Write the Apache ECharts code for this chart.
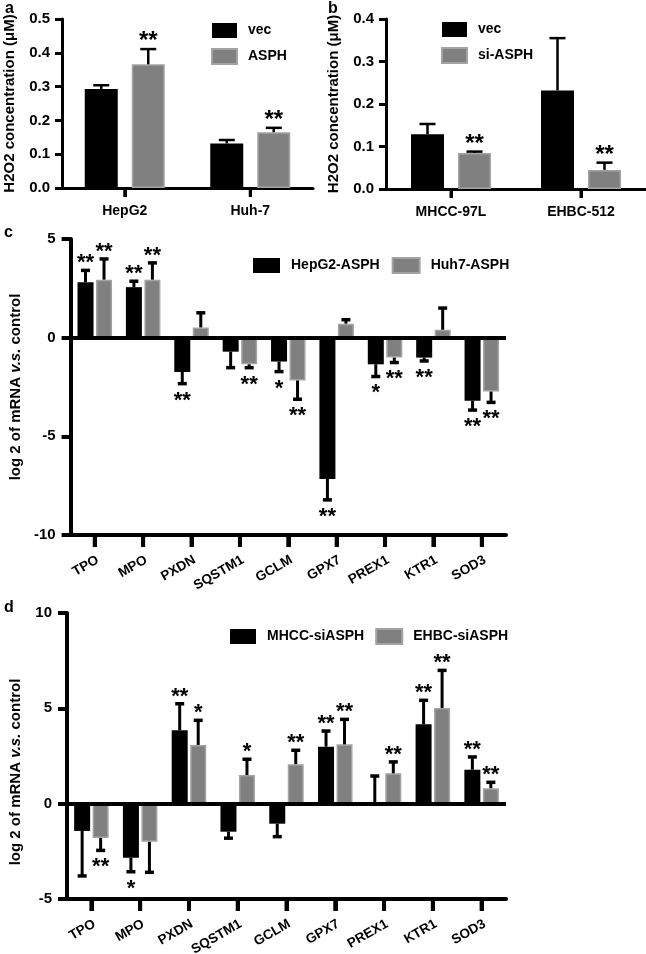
<!DOCTYPE html>
<html>
<head>
<meta charset="utf-8">
<script src="https://cdn.jsdelivr.net/npm/echarts@6/dist/echarts.min.js"></script>
<style>
html,body{margin:0;padding:0;background:#fff;}
#main{width:646px;height:954px;}
</style>
</head>
<body>
<div id="main"></div>
<script>
// ---------- DATA ----------
const aCategories = ['HepG2', 'Huh-7'];
const aVec = [0.293, 0.132];
const aVecErr = [0.011, 0.010];
const aVecStars = ['', ''];
const aAsph = [0.366, 0.165];
const aAsphErr = [0.045, 0.013];
const aAsphStars = ['**', '**'];
const aTicks = [0, 0.5, 0.1];

const bCategories = ['MHCC-97L', 'EHBC-512'];
const bVec = [0.129, 0.232];
const bVecErr = [0.024, 0.123];
const bVecStars = ['', ''];
const bSi = [0.085, 0.045];
const bSiErr = [0.003, 0.017];
const bSiStars = ['**', '**'];
const bTicks = [0, 0.4, 0.1];

const cCategories = ['TPO', 'MPO', 'PXDN', 'SQSTM1', 'GCLM', 'GPX7', 'PREX1', 'KTR1', 'SOD3'];
const cHepG2 = [2.81, 2.56, -1.74, -0.71, -1.21, -7.16, -1.35, -1.01, -3.20];
const cHepG2Err = [0.60, 0.30, 0.59, 0.81, 0.51, 1.06, 0.62, 0.17, 0.47];
const cHepG2Stars = ['**', '**', '**', '', '*', '**', '*', '**', '**'];
const cHuh7 = [2.94, 2.94, 0.52, -1.35, -2.17, 0.71, -1.01, 0.40, -2.73];
const cHuh7Err = [1.05, 0.85, 0.74, 0.17, 0.95, 0.20, 0.25, 1.10, 0.55];
const cHuh7Stars = ['**', '**', '', '**', '**', '', '**', '', '**'];
const cTicks = [-10, 5, 5];

const dCategories = ['TPO', 'MPO', 'PXDN', 'SQSTM1', 'GCLM', 'GPX7', 'PREX1', 'KTR1', 'SOD3'];
const dMhcc = [-1.43, -2.83, 3.85, -1.47, -1.05, 2.99, 0.05, 4.16, 1.78];
const dMhccErr = [2.36, 0.74, 1.39, 0.34, 0.68, 0.82, 1.40, 1.26, 0.67];
const dMhccStars = ['', '*', '**', '', '', '**', '', '**', '**'];
const dEhbc = [-1.80, -2.00, 3.08, 1.50, 2.07, 3.11, 1.59, 5.02, 0.81];
const dEhbcErr = [0.65, 1.60, 1.29, 0.83, 0.73, 1.31, 0.60, 1.97, 0.31];
const dEhbcStars = ['**', '', '*', '*', '**', '**', '**', '**', '**'];
const dTicks = [-5, 10, 5];

// ---------- STYLE ----------
const FONT = "'Liberation Sans', Arial, sans-serif";
const BLACK = '#000000';
const GRAY = '#808080';
const GRAY_BORDER = '#a3a3a3';
const LABEL_ROT = 30 * Math.PI / 180;

const grids = [
  {left: 62, top: 19, width: 251, height: 169},
  {left: 386, top: 19, width: 260, height: 170},
  {left: 64, top: 239, width: 442, height: 296},
  {left: 64, top: 613, width: 442, height: 286}
];

const barCfg = [
  {w: 33, gap: 14, lw: 2.5, cap: 16, capLw: 2.5, starGap: 13, starSize: 24, tickLen: 9, tickW: 3},
  {w: 33, gap: 14, lw: 2.5, cap: 16, capLw: 2.5, starGap: 13, starSize: 24, tickLen: 9, tickW: 3},
  {w: 16, gap: 2.5, lw: 3, cap: 9, capLw: 3.5, starGap: 12, starSize: 22, tickLen: 12, tickW: 4},
  {w: 16, gap: 2.5, lw: 3, cap: 9, capLw: 3.5, starGap: 12, starSize: 22, tickLen: 12, tickW: 4}
];

function xAxisFor(gi, cats, rotated) {
  return {
    type: 'category', gridIndex: gi, data: cats,
    axisLine: {show: true, onZero: false, lineStyle: {color: BLACK, width: gi < 2 ? 3 : 4}},
    axisTick: {show: true, alignWithLabel: true, interval: 0, inside: false, length: barCfg[gi].tickLen,
               lineStyle: {color: '#000', width: barCfg[gi].tickW}},
    axisLabel: rotated ? {show: false} : {
      show: true, margin: 16, interval: 0, color: BLACK, fontFamily: FONT, fontWeight: 'bold', fontSize: 14
    },
    splitLine: {show: false}
  };
}

function yAxisFor(gi, ticks, name, decimals, nameShift) {
  return {
    type: 'value', gridIndex: gi, min: ticks[0], max: ticks[1], interval: ticks[2],
    axisLine: {show: true, lineStyle: {color: BLACK, width: gi < 2 ? 3 : 4}},
    axisTick: {show: true, length: gi < 2 ? 7 : 9, lineStyle: {color: '#000', width: gi < 2 ? 3 : 4}},
    axisLabel: {
      margin: gi < 2 ? 12 : 15, color: BLACK, fontFamily: FONT, fontWeight: 'bold', fontSize: 15,
      formatter: v => decimals ? v.toFixed(decimals) : String(v)
    },
    splitLine: {show: false},
    name: name, nameLocation: 'middle', nameGap: gi < 2 ? 45 : 44,
    nameTextStyle: {
      color: BLACK, fontFamily: FONT, fontWeight: 'bold', fontSize: 15,
      padding: nameShift,
      rich: {
        n: {fontFamily: FONT, fontWeight: 'bold', fontSize: 15, color: BLACK},
        i: {fontFamily: FONT, fontWeight: 'bold', fontStyle: 'italic', fontSize: 15, color: BLACK}
      }
    }
  };
}

function barSeries(gi, name, vals, color, border, withZero) {
  const s = {
    type: 'bar', name: name, xAxisIndex: gi, yAxisIndex: gi,
    data: vals, barWidth: barCfg[gi].w,
    barGap: (barCfg[gi].gap / barCfg[gi].w * 100) + '%',
    itemStyle: {color: color, borderColor: border, borderWidth: border === color ? 0 : 1.5},
    emphasis: {disabled: true}, silent: true, z: 2
  };
  if (withZero) {
    s.markLine = {
      silent: true, symbol: 'none', label: {show: false},
      lineStyle: {color: BLACK, width: 4, type: 'solid'},
      data: [{yAxis: 0}]
    };
  }
  return s;
}

function errSeries(gi, vals, errs, stars, side) {
  const cfg = barCfg[gi];
  const off = side * (cfg.w + cfg.gap) / 2;
  return {
    type: 'custom', xAxisIndex: gi, yAxisIndex: gi, z: 5, silent: true,
    data: vals.map((v, i) => [i, v, errs[i]]),
    encode: {x: 0, y: 1},
    renderItem: function (params, api) {
      const i = api.value(0), v = api.value(1), e = api.value(2);
      const dir = v >= 0 ? 1 : -1;
      const base = api.coord([i, v]);
      const end = api.coord([i, v + dir * e]);
      const x = base[0] + off;
      const children = [
        {type: 'line', shape: {x1: x, y1: base[1], x2: x, y2: end[1]},
         style: {stroke: BLACK, lineWidth: cfg.lw}},
        {type: 'line', shape: {x1: x - cfg.cap / 2, y1: end[1], x2: x + cfg.cap / 2, y2: end[1]},
         style: {stroke: BLACK, lineWidth: cfg.capLw}}
      ];
      const s = stars[params.dataIndex];
      if (s) {
        children.push({
          type: 'text',
          style: {
            text: s, x: x, y: end[1] - dir * cfg.starGap + cfg.starSize * 0.22,
            align: 'center', verticalAlign: 'middle',
            font: 'bold ' + cfg.starSize + 'px ' + FONT, fill: BLACK
          }
        });
      }
      return {type: 'group', children: children};
    }
  };
}

// category ticks (and rotated category labels), placed through the axis scale
function catMarkSeries(gi, cats, yMin, withLabel, dx, dy) {
  const cfg = barCfg[gi];
  return {
    type: 'custom', xAxisIndex: gi, yAxisIndex: gi, z: 10, silent: true, clip: false,
    data: cats.map((c, i) => [i, yMin]),
    encode: {x: 0, y: 1},
    renderItem: function (params, api) {
      const p = api.coord([api.value(0), api.value(1)]);
      const children = [
        {type: 'rect', shape: {x: p[0] - cfg.tickW / 2, y: p[1], width: cfg.tickW, height: cfg.tickLen},
         style: {fill: BLACK}}
      ];
      if (withLabel) {
        children.push({
          type: 'text',
          x: p[0] + dx, y: p[1] + dy,
          rotation: LABEL_ROT,
          style: {
            text: cats[params.dataIndex], x: 0, y: 0,
            align: 'right', verticalAlign: 'middle',
            font: 'bold 13.5px ' + FONT, fill: BLACK
          }
        });
      }
      return {type: 'group', children: children};
    }
  };
}

const legendText = {color: BLACK, fontFamily: FONT, fontWeight: 'bold', fontSize: 14, padding: [0, 0, 0, 6]};

const option = {
  backgroundColor: '#ffffff',
  animation: false,
  grid: grids,
  xAxis: [
    xAxisFor(0, aCategories, false),
    xAxisFor(1, bCategories, false),
    xAxisFor(2, cCategories, true),
    xAxisFor(3, dCategories, true)
  ],
  yAxis: [
    yAxisFor(0, aTicks, 'H2O2 concentration (\u03bcM)', 1, 0),
    yAxisFor(1, bTicks, 'H2O2 concentration (\u03bcM)', 1, 0),
    yAxisFor(2, cTicks, '{n|log 2 of mRNA }{i|v.s.}{n| control}', 0, 0),
    yAxisFor(3, dTicks, '{n|log 2 of mRNA }{i|v.s.}{n| control}', 0, [0, 32, 0, 0])
  ],
  legend: [
    {orient: 'vertical', left: 206, top: 18, itemWidth: 25, itemHeight: 15, itemGap: 10,
     icon: 'rect', data: ['vec', 'ASPH'], textStyle: legendText, selectedMode: false},
    {orient: 'vertical', left: 436, top: 17, itemWidth: 25, itemHeight: 15, itemGap: 10,
     icon: 'rect', data: ['vec ', 'si-ASPH'], textStyle: legendText, selectedMode: false},
    {orient: 'horizontal', left: 248, top: 252, itemWidth: 27, itemHeight: 15, itemGap: 12,
     icon: 'rect', data: ['HepG2-ASPH', 'Huh7-ASPH'], textStyle: legendText, selectedMode: false},
    {orient: 'horizontal', left: 225, top: 623, itemWidth: 26, itemHeight: 15, itemGap: 11,
     icon: 'rect', data: ['MHCC-siASPH', 'EHBC-siASPH'], textStyle: legendText, selectedMode: false}
  ],
  graphic: [
    {type: 'text', left: 5, top: 1, style: {text: 'a', font: 'bold 16px ' + FONT, fill: BLACK}},
    {type: 'text', left: 328, top: 1, style: {text: 'b', font: 'bold 16px ' + FONT, fill: BLACK}},
    {type: 'text', left: 4, top: 225, style: {text: 'c', font: 'bold 16px ' + FONT, fill: BLACK}},
    {type: 'text', left: 4, top: 600, style: {text: 'd', font: 'bold 16px ' + FONT, fill: BLACK}}
  ],
  series: [
    barSeries(0, 'vec', aVec, BLACK, BLACK, false),
    barSeries(0, 'ASPH', aAsph, GRAY, GRAY_BORDER, false),
    errSeries(0, aVec, aVecErr, aVecStars, -1),
    errSeries(0, aAsph, aAsphErr, aAsphStars, 1),
    catMarkSeries(0, aCategories, aTicks[0], false, 0, 0),

    barSeries(1, 'vec ', bVec, BLACK, BLACK, false),
    barSeries(1, 'si-ASPH', bSi, GRAY, GRAY_BORDER, false),
    errSeries(1, bVec, bVecErr, bVecStars, -1),
    errSeries(1, bSi, bSiErr, bSiStars, 1),
    catMarkSeries(1, bCategories, bTicks[0], false, 0, 0),

    barSeries(2, 'HepG2-ASPH', cHepG2, BLACK, BLACK, true),
    barSeries(2, 'Huh7-ASPH', cHuh7, GRAY, GRAY_BORDER, false),
    errSeries(2, cHepG2, cHepG2Err, cHepG2Stars, -1),
    errSeries(2, cHuh7, cHuh7Err, cHuh7Stars, 1),
    catMarkSeries(2, cCategories, cTicks[0], true, 3, 24),

    barSeries(3, 'MHCC-siASPH', dMhcc, BLACK, BLACK, true),
    barSeries(3, 'EHBC-siASPH', dEhbc, GRAY, GRAY_BORDER, false),
    errSeries(3, dMhcc, dMhccErr, dMhccStars, -1),
    errSeries(3, dEhbc, dEhbcErr, dEhbcStars, 1),
    catMarkSeries(3, dCategories, dTicks[0], true, 3, 24)
  ]
};

const chart = echarts.init(document.getElementById('main'), null, {renderer: 'canvas'});
chart.setOption(option);
</script>
</body>
</html>
